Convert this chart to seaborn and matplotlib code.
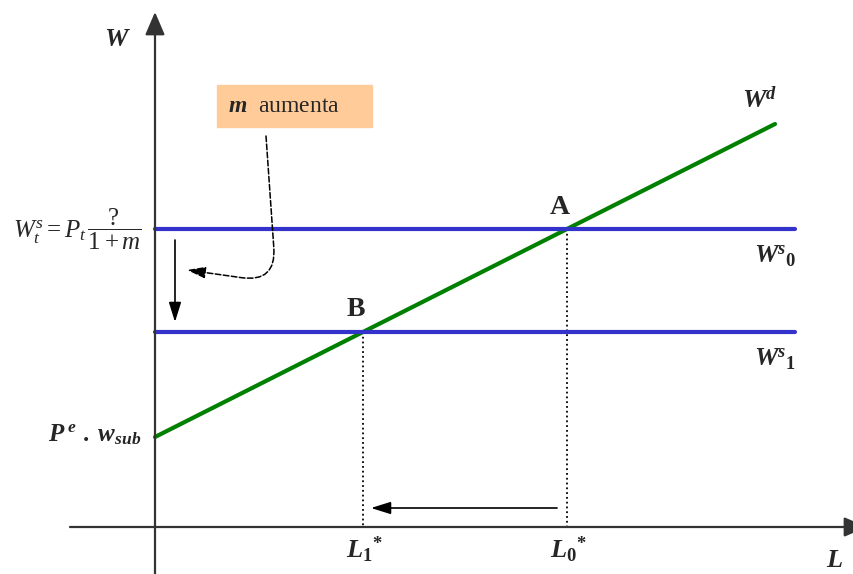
import numpy as np
import pandas as pd
import matplotlib
matplotlib.use('Agg')
import matplotlib.pyplot as plt
import seaborn as sns
from matplotlib.patches import Rectangle

sns.set_style('white')
plt.rcParams['font.family'] = ['Liberation Serif', 'DejaVu Serif']
plt.rcParams['mathtext.fontset'] = 'custom'
plt.rcParams['mathtext.rm'] = 'Liberation Serif'
plt.rcParams['mathtext.it'] = 'Liberation Serif:italic'
plt.rcParams['mathtext.bf'] = 'Liberation Serif:bold'
plt.rcParams['mathtext.bfit'] = 'Liberation Serif:bold:italic'

# datos del diagrama (unidades arbitrarias)
L_demanda = [0.0, 6.2]          # extremos de la recta de demanda W^d
W_demanda = [0.90, 4.03]
L_oferta = [0.0, 6.4]           # extension de las rectas W^s
W_oferta = [2.98, 1.95]         # W^s_0, W^s_1
nombres_oferta = ['Ws0', 'Ws1']
puntos = ['A', 'B']

# intersecciones
pendiente = (W_demanda[1] - W_demanda[0]) / (L_demanda[1] - L_demanda[0])
L_star = [(w - W_demanda[0]) / pendiente for w in W_oferta]

filas = [{'curva': 'Wd', 'L': l, 'W': w} for l, w in zip(L_demanda, W_demanda)]
for nombre, w in zip(nombres_oferta, W_oferta):
    filas += [{'curva': nombre, 'L': l, 'W': w} for l in L_oferta]
df = pd.DataFrame(filas)

fig = plt.figure(figsize=(8.54, 5.74), dpi=100)
ax = fig.add_axes([0, 0, 1, 1])
ax.set_xlim(-1.55, 6.99)
ax.set_ylim(-0.47, 5.27)
ax.axis('off')

# ejes
ejes = dict(arrowstyle='-|>,head_length=0.7,head_width=0.3', color='#333333',
            lw=1.6, shrinkA=0, shrinkB=0, mutation_scale=20)
ax.annotate('', xy=(0, 5.15), xytext=(0, -0.5), arrowprops=ejes, annotation_clip=False)
ax.annotate('', xy=(7.12, 0), xytext=(-0.85, 0), arrowprops=ejes, annotation_clip=False)

# lineas verticales punteadas
for l, w in zip(L_star, W_oferta):
    ax.plot([l, l], [w, 0], color='black', lw=1.3, ls=':')

sns.lineplot(data=df, x='L', y='W', hue='curva', units='curva', estimator=None,
             palette={'Wd': '#008000', 'Ws0': '#3333cc', 'Ws1': '#3333cc'},
             lw=3, legend=False, ax=ax, sort=False)

# flechas
flecha = dict(arrowstyle='-|>,head_length=0.8,head_width=0.25', color='black',
              lw=1.2, shrinkA=0, shrinkB=0, mutation_scale=15)
ax.annotate('', xy=(L_star[1] + 0.08, 0.19), xytext=(L_star[0] - 0.1, 0.19), arrowprops=flecha)
ax.annotate('', xy=(0.2, W_oferta[1] + 0.1), xytext=(0.2, W_oferta[0] - 0.11), arrowprops=flecha)
ax.annotate('', xy=(0.32, 2.57), xytext=(1.11, 3.91),
            arrowprops=dict(arrowstyle='-|>,head_length=0.8,head_width=0.25', color='black',
                            lw=1.1, ls='--', shrinkA=0, shrinkB=0, mutation_scale=14,
                            connectionstyle='angle,angleA=-86,angleB=-8,rad=35'))

# caja "m aumenta"
ax.add_patch(Rectangle((0.62, 4.00), 1.55, 0.42, color='#ffcc99', zorder=3))
ax.text(0.73, 4.21, r'$\mathbfit{m}$  aumenta', fontsize=17, va='center', ha='left', zorder=4)

# etiquetas
ax.text(-0.37, 4.87, r'$\mathbfit{W}$', fontsize=19, ha='center', va='center')
ax.text(6.80, -0.34, r'$\mathbfit{L}$', fontsize=19, ha='center', va='center')
for p, l, w in zip(puntos, L_star, W_oferta):
    ax.text(l - 0.07, w + 0.22, p, fontsize=20, fontweight='bold', ha='center', va='center')
ax.text(6.05, 4.27, r'$\mathbfit{W}^{\mathbfit{d}}$', fontsize=19, ha='center', va='center')
for i, w in enumerate(W_oferta):
    ax.text(6.2, w - 0.27, r'$\mathbfit{W}^{\mathbfit{s}}{}_{\mathbf{%d}}$' % i,
            fontsize=19, ha='center', va='center')
    ax.text(L_star[i] + 0.02, -0.23, r'$\mathbfit{L}_{\mathbf{%d}}{}^{\mathbf{*}}$' % i,
            fontsize=19, ha='center', va='center')
ax.text(-0.6, 0.92, r'$\mathbfit{P}^{\ \mathbfit{e}}\ \mathbf{.}\ \mathbfit{w}_{\mathbfit{sub}}$',
        fontsize=18, ha='center', va='center')
ax.text(-0.78, 2.98, r'$W_t^s=P_t\,\dfrac{?}{1+m}$', fontsize=18, ha='center', va='center')

plt.savefig('out.png', dpi=100)
